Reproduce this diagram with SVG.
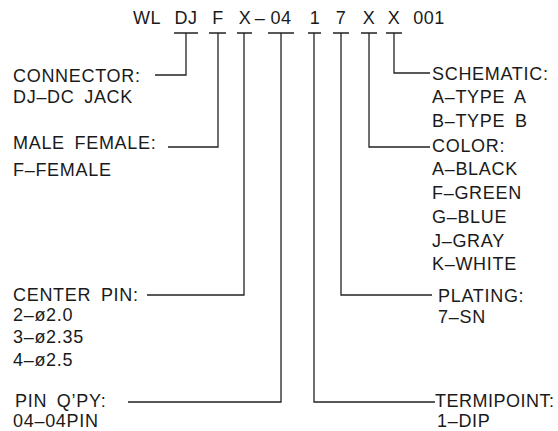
<svg xmlns="http://www.w3.org/2000/svg" width="558" height="431" viewBox="0 0 558 431">
<style>
text{font-family:"Liberation Sans",Arial,sans-serif;font-size:18px;fill:#1a1a1a;letter-spacing:0.7px;word-spacing:4px}
.t{text-anchor:middle;letter-spacing:0.5px}
.c{fill:none;stroke:#222;stroke-width:1.3}
</style>
<rect width="558" height="431" fill="#fff"/>
<g id="code">
<text x="147" y="24" class="t">WL</text>
<text x="186" y="24" class="t">DJ</text>
<text x="218" y="24" class="t">F</text>
<text x="245" y="24" class="t">X</text>
<text x="260" y="24" class="t">–</text>
<text x="281" y="24" class="t">04</text>
<text x="315" y="24" class="t">1</text>
<text x="341" y="24" class="t">7</text>
<text x="369" y="24" class="t">X</text>
<text x="394" y="24" class="t">X</text>
<text x="429" y="24" class="t">001</text>
</g>
<g id="connectors">
<path class="c" d="M174 33H198M209 33H226M237 33H252M268 33H294M308 33H321M333 33H349M361 33H377M386 33H402"/>
<path class="c" d="M186 33V75H155"/>
<path class="c" d="M218 33V147H168"/>
<path class="c" d="M244 33V295H147"/>
<path class="c" d="M281 33V402H128"/>
<path class="c" d="M314 33V402H435"/>
<path class="c" d="M341 33V295H432"/>
<path class="c" d="M369 33V147H430"/>
<path class="c" d="M394 33V73H430"/>
</g>
<g id="connector-label">
<text x="13" y="82">CONNECTOR:</text>
<text x="13" y="103">DJ–DC JACK</text>
</g>
<g id="gender-label">
<text x="13" y="149">MALE FEMALE:</text>
<text x="13" y="176">F–FEMALE</text>
</g>
<g id="centerpin-label">
<text x="13" y="301">CENTER PIN:</text>
<text x="13" y="321">2–ø2.0</text>
<text x="13" y="343">3–ø2.35</text>
<text x="13" y="366">4–ø2.5</text>
</g>
<g id="pinqty-label">
<text x="15" y="407">PIN Q’PY:</text>
<text x="13" y="427">04–04PIN</text>
</g>
<g id="schematic-label">
<text x="432" y="80">SCHEMATIC:</text>
<text x="432" y="103">A–TYPE A</text>
<text x="432" y="127">B–TYPE B</text>
</g>
<g id="color-label">
<text x="432" y="152">COLOR:</text>
<text x="432" y="175">A–BLACK</text>
<text x="432" y="199">F–GREEN</text>
<text x="432" y="223">G–BLUE</text>
<text x="432" y="247">J–GRAY</text>
<text x="432" y="270">K–WHITE</text>
</g>
<g id="plating-label">
<text x="438" y="302">PLATING:</text>
<text x="438" y="323">7–SN</text>
</g>
<g id="termipoint-label">
<text x="435" y="407" style="letter-spacing:0.5px">TERMIPOINT:</text>
<text x="437" y="427">1–DIP</text>
</g>
</svg>
